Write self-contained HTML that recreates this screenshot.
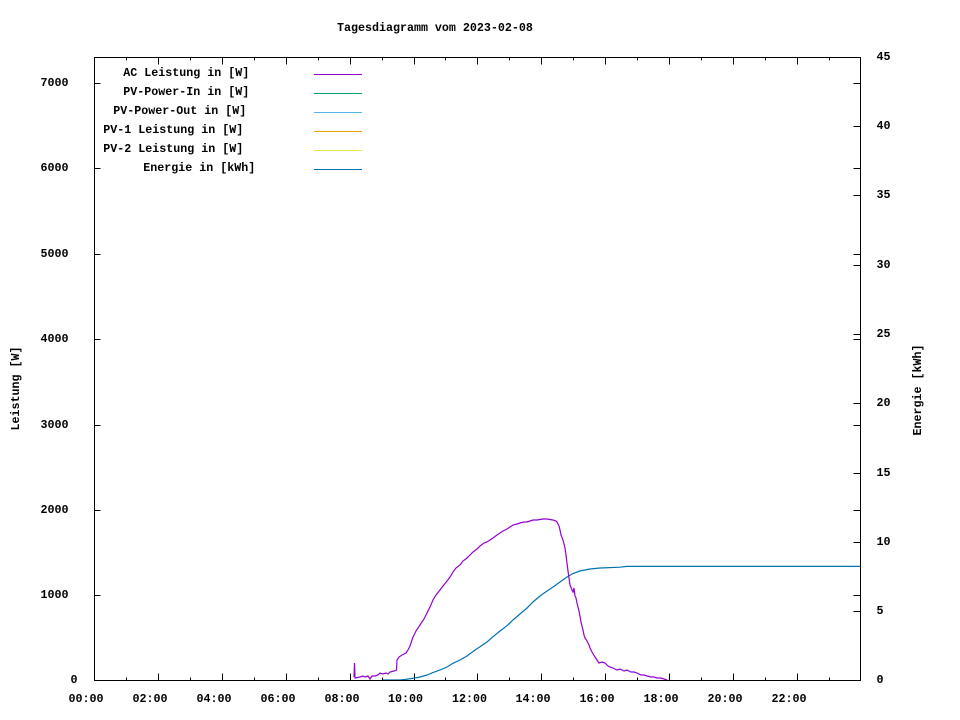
<!DOCTYPE html>
<html><head><meta charset="utf-8"><style>
html,body{margin:0;padding:0;background:#fff;}
svg{display:block;}
text{font-family:"Liberation Mono",monospace;font-weight:bold;font-size:11.67px;fill:#000;}
</style></head><body>
<svg width="960" height="720" viewBox="0 0 960 720" xmlns="http://www.w3.org/2000/svg">
<rect width="960" height="720" fill="#fff"/>
<text x="337" y="31">Tagesdiagramm vom 2023-02-08</text>

<g stroke="#000" stroke-width="1" shape-rendering="crispEdges" fill="none">
<!-- left y ticks + mirrored on right -->
<path d="M94.5 595.5h6M94.5 510.5h6M94.5 425.5h6M94.5 339.5h6M94.5 254.5h6M94.5 168.5h6M94.5 83.5h6"/>
<path d="M860.5 595.5h-7M860.5 510.5h-7M860.5 425.5h-7M860.5 339.5h-7M860.5 254.5h-7M860.5 168.5h-7M860.5 83.5h-7"/>
<!-- y2 ticks -->
<path d="M860.5 611.5h-7M860.5 542.5h-7M860.5 473.5h-7M860.5 403.5h-7M860.5 334.5h-7M860.5 265.5h-7M860.5 195.5h-7M860.5 126.5h-7"/>
<!-- x major ticks bottom/top -->
<path d="M158.5 680.5v-7M222.5 680.5v-7M286.5 680.5v-7M350.5 680.5v-7M414.5 680.5v-7M477.5 680.5v-7M541.5 680.5v-7M605.5 680.5v-7M669.5 680.5v-7M733.5 680.5v-7M797.5 680.5v-7"/>
<path d="M158.5 57.5v7M222.5 57.5v7M286.5 57.5v7M350.5 57.5v7M414.5 57.5v7M477.5 57.5v7M541.5 57.5v7M605.5 57.5v7M669.5 57.5v7M733.5 57.5v7M797.5 57.5v7"/>
<!-- x minor ticks -->
<path d="M126.5 680.5v-3M190.5 680.5v-3M254.5 680.5v-3M318.5 680.5v-3M382.5 680.5v-3M445.5 680.5v-3M509.5 680.5v-3M573.5 680.5v-3M637.5 680.5v-3M701.5 680.5v-3M765.5 680.5v-3M829.5 680.5v-3"/>
<path d="M126.5 57.5v3M190.5 57.5v3M254.5 57.5v3M318.5 57.5v3M382.5 57.5v3M445.5 57.5v3M509.5 57.5v3M573.5 57.5v3M637.5 57.5v3M701.5 57.5v3M765.5 57.5v3M829.5 57.5v3"/>
</g>

<!-- left labels -->
<g>
<text x="70.5" y="683">0</text>
<text x="40.5" y="598">1000</text>
<text x="40.5" y="513">2000</text>
<text x="40.5" y="428">3000</text>
<text x="40.5" y="342">4000</text>
<text x="40.5" y="257">5000</text>
<text x="40.5" y="171">6000</text>
<text x="40.5" y="86">7000</text>
</g>
<!-- right labels -->
<g>
<text x="876.5" y="683">0</text>
<text x="876.5" y="614">5</text>
<text x="876.5" y="545">10</text>
<text x="876.5" y="476">15</text>
<text x="876.5" y="406">20</text>
<text x="876.5" y="337">25</text>
<text x="876.5" y="268">30</text>
<text x="876.5" y="198">35</text>
<text x="876.5" y="129">40</text>
<text x="876.5" y="60">45</text>
</g>
<!-- x labels -->
<g text-anchor="middle">
<text x="86" y="702">00:00</text>
<text x="150" y="702">02:00</text>
<text x="214" y="702">04:00</text>
<text x="278" y="702">06:00</text>
<text x="342" y="702">08:00</text>
<text x="405.5" y="702">10:00</text>
<text x="469.5" y="702">12:00</text>
<text x="533" y="702">14:00</text>
<text x="597" y="702">16:00</text>
<text x="661" y="702">18:00</text>
<text x="725" y="702">20:00</text>
<text x="789" y="702">22:00</text>
</g>
<text transform="translate(19,388.5) rotate(-90)" text-anchor="middle">Leistung [W]</text>
<text transform="translate(921,390) rotate(-90)" text-anchor="middle">Energie [kWh]</text>

<!-- legend -->
<text x="123.3" y="76">AC Leistung in [W]</text>
<text x="123.3" y="95">PV-Power-In in [W]</text>
<text x="113.3" y="114">PV-Power-Out in [W]</text>
<text x="103.3" y="133">PV-1 Leistung in [W]</text>
<text x="103.3" y="152">PV-2 Leistung in [W]</text>
<text x="143.3" y="171">Energie in [kWh]</text>
<g stroke-width="1" shape-rendering="crispEdges">
<path d="M314 74.5H362" stroke="#9400d3"/>
<path d="M314 93.5H362" stroke="#009e73"/>
<path d="M314 112.5H362" stroke="#56b4e9"/>
<path d="M314 131.5H362" stroke="#e69f00"/>
<path d="M314 150.5H362" stroke="#f0e442"/>
<path d="M314 169.5H362" stroke="#0072b2"/>
</g>

<!-- Energie -->
<polyline fill="none" stroke="#0072b2" stroke-width="1.2" points="383,680 400,680 405,679.5 413,678.3 420,677 427,675 433,672.5 440,670 447,667 453,663.3 460,660 467,656 473,651.5 480,646.7 487,642 493,636.7 500,631 507,625.7 513,620 520,614 527,608 533,602 540,596 547,591 553,587 560,582 567,577 573,573.5 580,571 590,569 600,568 620,567.2 627,566.4 860,566.4"/>

<!-- AC Leistung -->
<polyline fill="none" stroke="#9400d3" stroke-width="1.2" points="354,677 354.5,663 355,678 360,677 363,676 365,677 368,676 370,679 372,676 375,676 378,675 380,673 383,674 386,673 388,674 390,672 394,671 396.5,670 397,660 399,657 402,655 406,653 408,650 410,646 413,637 416,631 420,625 424,619 427,613 430,607 433,600 436,595 440,590 443,586 447,581 450,577 453,572 456,568 460,565 463,561 467,558 470,555 473,552 477,549 480,546 484,543 487,542 490,540 493,538 497,535 500,533 503,531 507,529 510,527 513,525 517,524 520,523 524,522 527,522 530,521 533,520 537,520 540,519.5 543,519 547,519 550,519.5 553,520 556,521 557,522 559,526 560,530 561,535 563,540 565,548 566,555 567,563 568,571 569,578 570,585 572,590 573,592 574,588 575,596 576,598 577,603 579,611 580,616 581,622 583,630 584,635 585,638 587,641 589,645 590,648 592,652 595,657 597,660 599,663 602,662 605,663 608,666 610,667 613,668 617,670 620,669 624,671 627,670 631,672 634,672 637,673 641,675 644,675 647,676 651,677 654,677 657,678 661,678 664,679 667,680 668,681"/>

<!-- border -->
<rect x="94.5" y="57.5" width="766" height="623" fill="none" stroke="#000" stroke-width="1" shape-rendering="crispEdges"/>
</svg>
</body></html>
